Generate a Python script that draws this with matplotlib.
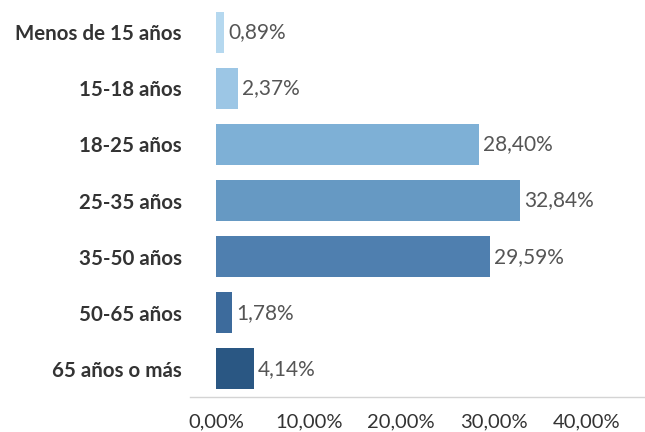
import numpy as np
import matplotlib
matplotlib.use('agg')
import matplotlib.pyplot as plt
import matplotlib.ticker as ticker

categorias = ['Menos de 15 años', '15-18 años', '18-25 años', '25-35 años',
              '35-50 años', '50-65 años', '65 años o más']
porcentajes = [0.89, 2.37, 28.40, 32.84, 29.59, 1.78, 4.14]
colores = ['#b5d8ef', '#9cc6e5', '#7eb0d6', '#6699c3', '#4f7faf', '#3d6b9c', '#2a5783']
xticks = [0, 10, 20, 30, 40]

plt.rcParams['font.family'] = ['Lato', 'DejaVu Sans']

fig = plt.figure(figsize=[6.45, 4.32], dpi=100)
ax = fig.add_axes([190/645, 35/432, 455/645, 393/432])

y = np.arange(len(categorias))
ax.barh(y, porcentajes, height=0.73, color=colores, edgecolor='none')
for yi, v in zip(y, porcentajes):
    ax.text(v + 0.4, yi, f'{v:.2f}%'.replace('.', ','), va='center', ha='left',
            fontsize=15, color='#555555')

ax.set_xlim(-2.8, 46.3)
ax.set_ylim(6.5, -0.5)
ax.set_yticks(y)
ax.set_yticklabels(categorias, fontsize=14.8, fontweight='bold', color='#333333')
ax.xaxis.set_major_locator(ticker.FixedLocator(xticks))
ax.set_xticklabels([f'{t:.2f}%'.replace('.', ',') for t in xticks], fontsize=14.5, color='#333333')
ax.tick_params(axis='both', length=0)
ax.tick_params(axis='y', pad=6)
ax.tick_params(axis='x', pad=12)
for s in ['top', 'right', 'left']:
    ax.spines[s].set_visible(False)
ax.spines['bottom'].set_color('#d4d4d4')
ax.spines['bottom'].set_linewidth(1.0)

plt.savefig('out.png', dpi=100)
plt.close()
